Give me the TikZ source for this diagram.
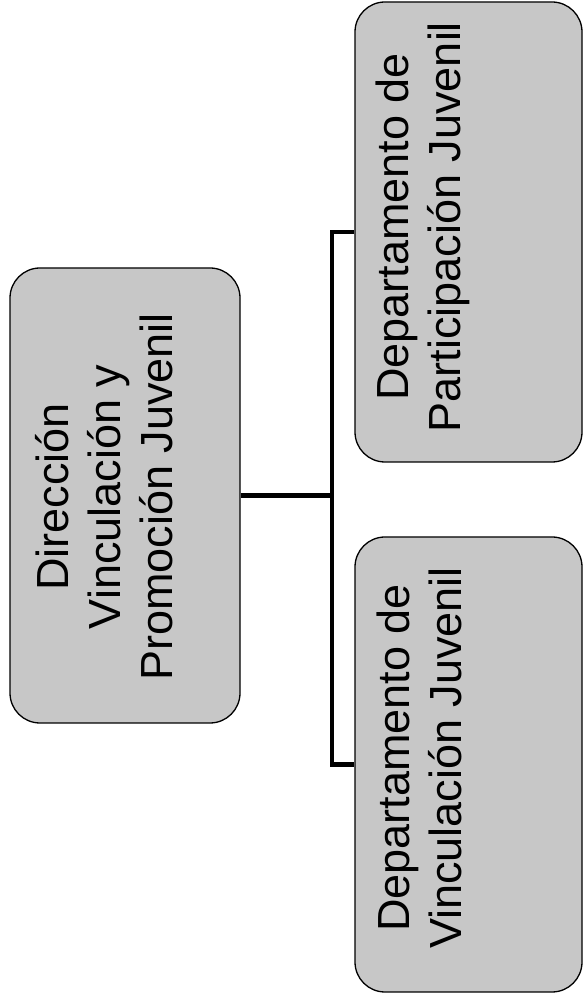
\documentclass[tikz,border=0pt]{standalone}
\usepackage{fontspec}
\setmainfont{Liberation Sans}
\usepackage{tikz}
\definecolor{boxgray}{gray}{0.78}
\tikzstyle{orgbox} = [draw=black, fill=boxgray, line width=1.3pt,
    rectangle, rounded corners=30pt, inner sep=0pt]
\tikzstyle{orgtext} = [rotate=90, align=center, inner sep=0pt,
    font=\fontsize{45}{52}\selectfont]
\tikzstyle{orgline} = [line width=4.5pt]

\begin{document}
\begin{tikzpicture}[x=1pt, y=1pt]
\useasboundingbox (0,0) rectangle (583,997);
\node [orgbox, minimum width=230pt, minimum height=455pt] (dir) at (125,501.5) {};
\node [orgbox, minimum width=227pt, minimum height=460pt] (part) at (468.5,765) {};
\node [orgbox, minimum width=227pt, minimum height=455pt] (vinc) at (468.5,232.5) {};
\node [orgtext] (dirtxt) at (104,500) {Dirección\\Vinculación y\\Promoción Juvenil};
\node [orgtext] (parttxt) at (423,770) {Departamento de\\Participación Juvenil};
\node [orgtext] (vinctxt) at (419,239) {Departamento de\\Vinculación Juvenil};
\coordinate (bus) at (332,501.5);
\draw [orgline] (dir.east) -- (bus);
\draw [orgline] (part.west) -| (bus) |- (vinc.west);
\end{tikzpicture}
\end{document}
